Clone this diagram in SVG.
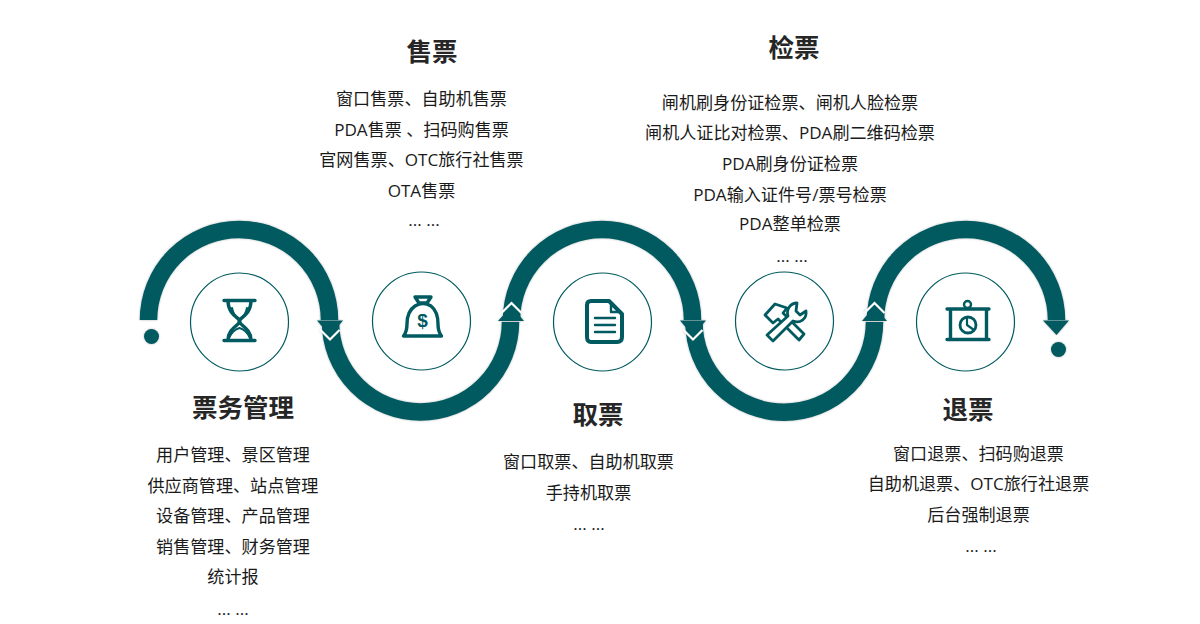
<svg xmlns="http://www.w3.org/2000/svg" width="1200" height="624" viewBox="0 0 1200 624">
<defs>
<filter id="soft" x="-10%" y="-10%" width="120%" height="120%"><feGaussianBlur stdDeviation="1.2" in="SourceAlpha"/><feComponentTransfer><feFuncA type="linear" slope="0.3"/></feComponentTransfer><feMerge><feMergeNode/><feMergeNode in="SourceGraphic"/></feMerge></filter>
</defs>
<style>
text{font-family:"Open Sans","Noto Sans CJK SC",sans-serif;text-anchor:middle;fill:#1a1a1a}
.t{font-size:25.5px;font-weight:700;fill:#262626}
.b{font-size:17.1px}
.ring{fill:#fff;stroke:#005a60;stroke-width:1.2}
.arc{fill:none;stroke:#005a60;stroke-width:17.5}
.ic{fill:none;stroke:#005a60;stroke-width:3.4;stroke-linecap:round;stroke-linejoin:round}
.icf{fill:#005a60}
.chev{fill:none;stroke:#fff;stroke-width:2.2}
</style>
<rect width="1200" height="624" fill="#fff"/>
<g id="connectors" filter="url(#soft)">
<path class="arc" d="M148.500 320A90.500 90.500 0 0 1 329.500 320"/>
<path class="arc" d="M330.500 322A90 90 0 0 0 510.500 322"/>
<path class="arc" d="M511.500 320A90.500 90.500 0 0 1 692.500 320"/>
<path class="arc" d="M694 322A90 90 0 0 0 874.500 322"/>
<path class="arc" d="M875.500 320A90.500 90.500 0 0 1 1056.500 320"/>
<path class="icf" d="M317 320.500H343L330 336Z"/>
<path class="chev" d="M320.500 330L330 339.500L339.500 330"/>
<path class="icf" d="M498 321H524L511.500 306Z"/>
<path class="chev" d="M501.500 313L511.500 303L521.500 313"/>
<path class="icf" d="M680 320.500H706L693 336Z"/>
<path class="chev" d="M683.500 330L693 339.500L702.500 330"/>
<path class="icf" d="M862 321H887L874.500 306Z"/>
<path class="chev" d="M864.500 313L874.500 303L884.500 313"/>
<path class="icf" d="M1043 320.500H1069L1056.500 335Z"/>
<circle class="icf" cx="151.500" cy="336.500" r="7.500"/>
<circle class="icf" cx="1058.500" cy="349.500" r="7.500"/>
</g>
<g id="node-ticket-mgmt">
<circle class="ring" cx="239.500" cy="322" r="49"/>
<path class="ic" d="M224 300.500H255M224 340.500H255M228 301C228 315 240 318 240 321C240 325 228 328 228 340M251 301C251 315 239 318 239 321C239 325 251 328 251 340"/>
<path class="ic" style="stroke-width:2.2" d="M232 308C233 316 238 318 239.500 321C241 318 246 316 247 308"/>
<path class="ic" style="stroke-width:2.2" d="M229 338C232 331 236 329 239.500 328C243 329 247 331 250 338"/>
<text class="t" x="243" y="417">票务管理</text>
<text class="b" x="233" y="461">用户管理、景区管理</text>
<text class="b" x="233" y="492">供应商管理、站点管理</text>
<text class="b" x="233" y="522">设备管理、产品管理</text>
<text class="b" x="233" y="553">销售管理、财务管理</text>
<text class="b" x="233" y="583">统计报</text>
<text class="b" x="233" y="615">... ...</text>
</g>
<g id="node-sale">
<circle class="ring" cx="421.500" cy="321" r="49"/>
<path class="ic" d="M415 297H431L427 303H419ZM415 306C409 310 407 316 407 324C407 330 406 333 403.500 336H441.500C439 333 438 330 438 324C438 316 436 310 431 306Q423 301 415 306Z"/>
<text x="422.500" y="327" style="font-size:19px;font-weight:700;fill:#005a60;font-family:'Liberation Sans',sans-serif">$</text>
<text class="t" x="432" y="61">售票</text>
<text class="b" x="421.500" y="105">窗口售票、自助机售票</text>
<text class="b" x="421.500" y="135.500">PDA售票 、扫码购售票</text>
<text class="b" x="421.500" y="165.500">官网售票、OTC旅行社售票</text>
<text class="b" x="421.500" y="196.500">OTA售票</text>
<text class="b" x="424" y="226">... ...</text>
</g>
<g id="node-pickup">
<circle class="ring" cx="602.500" cy="322" r="49"/>
<path class="ic" style="stroke-width:4" d="M591 301H609L622 314V337Q622 342 617 342H591Q587 342 587 337V305Q587 301 591 301Z"/>
<path class="ic" style="stroke-width:2.4" d="M611 303V312H620M595 318H615M595 325H615M595 332H615"/>
<text class="t" x="598" y="424">取票</text>
<text class="b" x="588.500" y="468">窗口取票、自助机取票</text>
<text class="b" x="588.500" y="499">手持机取票</text>
<text class="b" x="589" y="530">... ...</text>
</g>
<g id="node-check">
<circle class="ring" cx="784.500" cy="321" r="49"/>
<path class="ic" style="stroke-width:2.8" d="M769 319L765 315L775 304L787 308L783 313L804 334L799 340L778 319L773 323Z"/>
<path class="ic" style="stroke-width:2.8;fill:#fff" d="M797 303C790 303 786 310 788 316L767 335L773 341L793 321C800 324 807 319 806 311L800 315L796 311Z"/>
<text class="t" x="794" y="57">检票</text>
<text class="b" x="790" y="108.500">闸机刷身份证检票、闸机人脸检票</text>
<text class="b" x="790" y="139">闸机人证比对检票、PDA刷二维码检票</text>
<text class="b" x="790" y="169.500">PDA刷身份证检票</text>
<text class="b" x="790" y="200.500">PDA输入证件号/票号检票</text>
<text class="b" x="790" y="230">PDA整单检票</text>
<text class="b" x="792" y="262">... ...</text>
</g>
<g id="node-refund">
<circle class="ring" cx="965.500" cy="322" r="49"/>
<path class="ic" d="M947 309H989M947 339.500H989M950.500 309V339.500M986.500 309V339.500"/>
<circle class="ic" style="stroke-width:2.4" cx="967.500" cy="304.500" r="3.500"/>
<circle class="ic" style="stroke-width:2.8" cx="968" cy="325" r="8"/>
<path class="ic" style="stroke-width:2.2" d="M967 318V325L974 330"/>
<text class="t" x="968" y="419">退票</text>
<text class="b" x="978.500" y="460">窗口退票、扫码购退票</text>
<text class="b" x="978.500" y="490">自助机退票、OTC旅行社退票</text>
<text class="b" x="978.500" y="521">后台强制退票</text>
<text class="b" x="981" y="552">... ...</text>
</g>
</svg>
